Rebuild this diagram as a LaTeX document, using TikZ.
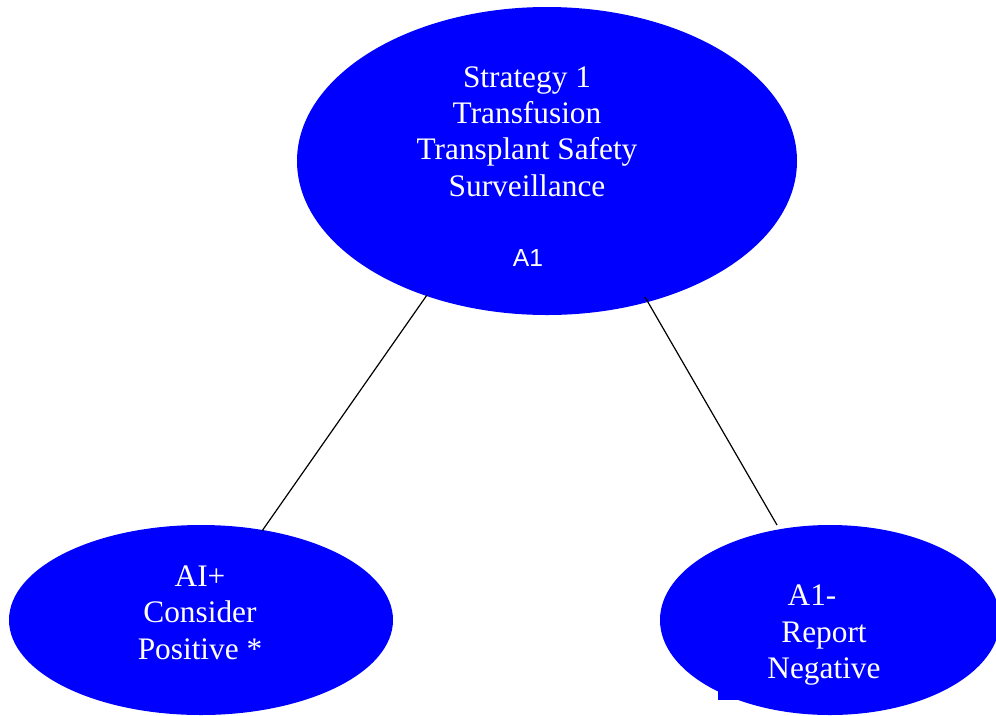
\documentclass[tikz,border=0pt]{standalone}
\usepackage{fontspec}
\setmainfont{Liberation Serif}
\newfontfamily\labelsans{Liberation Sans}
\usetikzlibrary{shapes.geometric}
\definecolor{pureblue}{RGB}{0,0,255}
\begin{document}
\begin{tikzpicture}[x=0.75pt,y=-0.75pt,
  blob/.style={ellipse,fill=pureblue,draw=none,inner sep=0pt},
  txt/.style={text=white,font=\fontsize{23.5}{27.7}\selectfont,inner sep=0pt,text height=0.68em,text depth=0pt},
  tag/.style={text=white,font=\labelsans\fontsize{18.5}{20}\selectfont,inner sep=0pt,text height=0.72em,text depth=0pt},
  link/.style={draw=black,line width=0.9pt}]
\useasboundingbox (0,0) rectangle (996,715);
\clip (0,0) rectangle (996,715);
% ellipses
\node[blob,minimum width=375pt,minimum height=231pt] (top) at (547,161) {};
\node[blob,minimum width=288pt,minimum height=142.5pt] (left) at (201,620) {};
\node[blob,minimum width=255pt,minimum height=142.5pt] (right) at (830,620) {};
\fill[pureblue] (718,688) rectangle (745,700);
% texts
\node[txt] (s1) at (527,82.5) {Strategy 1};
\node[txt] (s2) at (527,118.5) {Transfusion};
\node[txt] (s3) at (527,154.5) {Transplant Safety};
\node[txt] (s4) at (527,191.5) {Surveillance};
\node[tag] (a1) at (528,262) {A1};
\node[txt] (l1) at (200,581.5) {AI+};
\node[txt] (l2) at (200,617.5) {Consider};
\node[txt] (l3) at (200,654.5) {Positive *};
\node[txt] (r1) at (812,600.5) {A1-};
\node[txt] (r2) at (824,637.5) {Report};
\node[txt] (r3) at (824,673.5) {Negative};
% connectors
\coordinate (tl) at (427,295);
\coordinate (tr) at (645,297);
\coordinate (lt) at (262,531);
\coordinate (rt) at (777,525);
\draw[link] (tl) -- (lt);
\draw[link] (tr) -- (rt);
\end{tikzpicture}
\end{document}
